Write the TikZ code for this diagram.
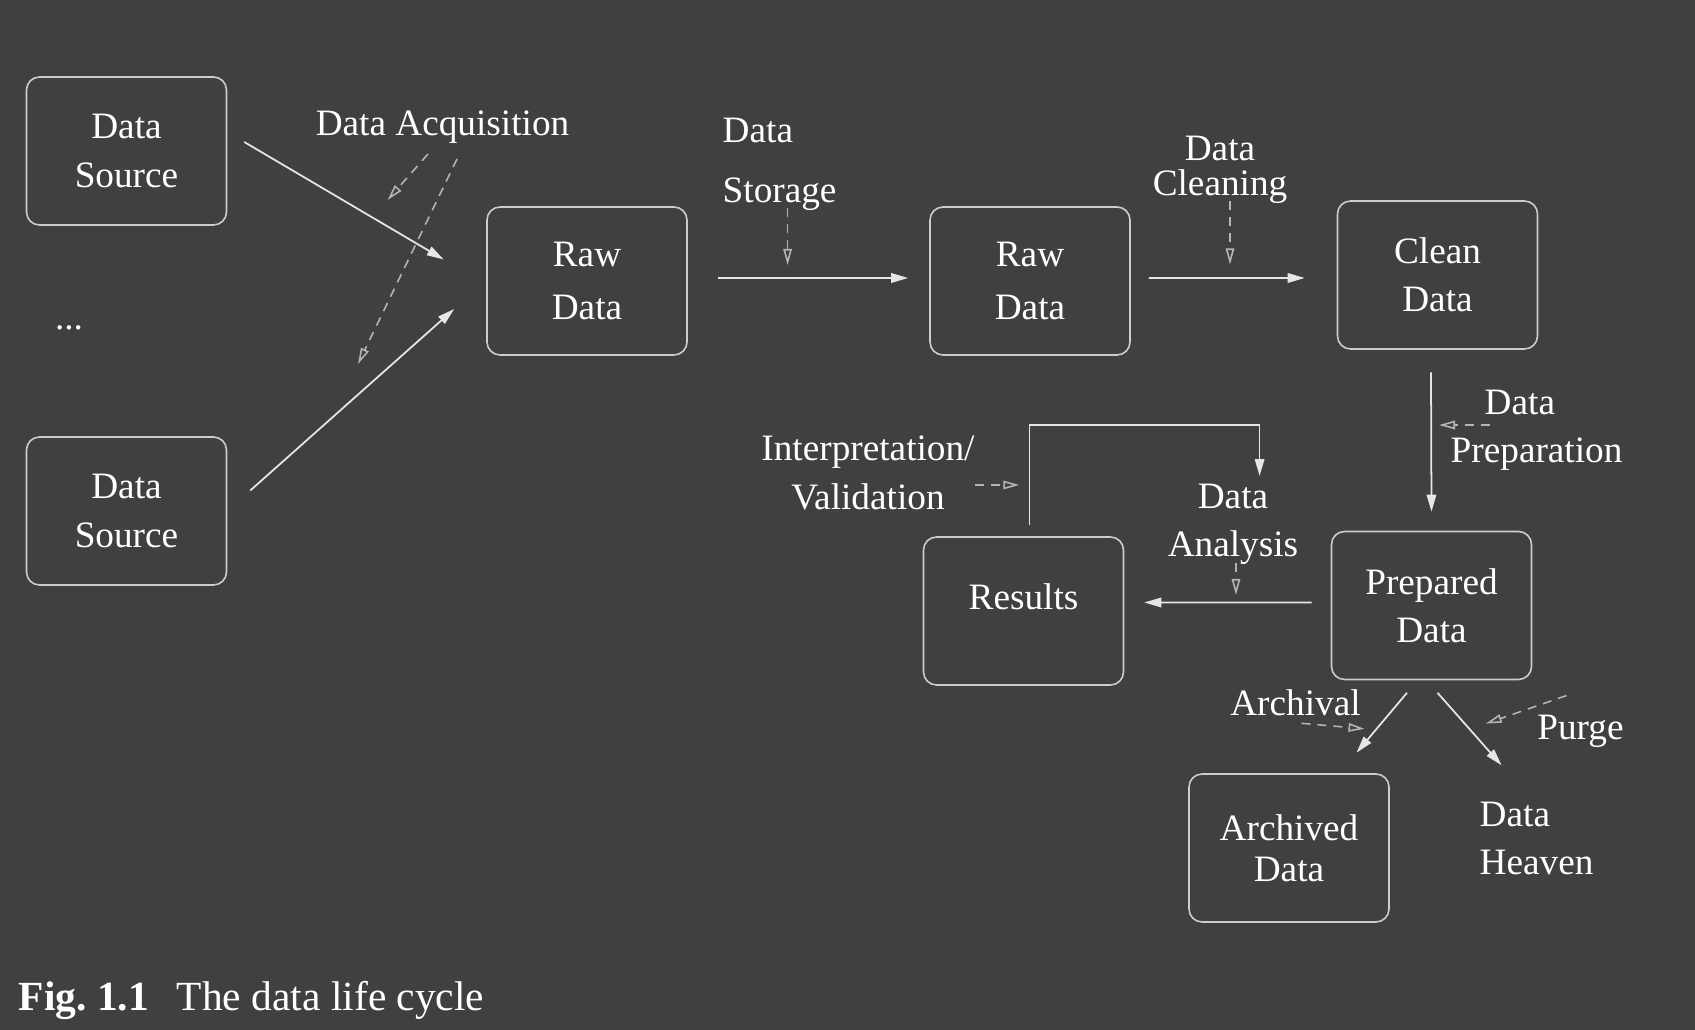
\documentclass[tikz,border=0pt]{standalone}
\usepackage{fontspec}
\setmainfont{Liberation Serif}
\usetikzlibrary{arrows.meta}

\definecolor{bgcol}{HTML}{404040}
\definecolor{linecol}{HTML}{E6E6E6}
\definecolor{boxcol}{HTML}{CDCDCD}
\definecolor{hintcol}{HTML}{B4B4B4}

\begin{document}
\begin{tikzpicture}[x=0.1mm, y=-0.1mm, text=white, font=\fontsize{10.6}{13.7}\selectfont]
    \tikzstyle{box}=[draw=boxcol, line width=0.45pt, rounded corners=1.3mm, minimum width=20mm, minimum height=14.8mm, inner sep=0pt, align=center]
    \tikzstyle{flow}=[draw=linecol, line width=0.5pt, -{Triangle[length=1.7mm,width=0.95mm]}]
    \tikzstyle{hint}=[draw=hintcol, line width=0.45pt, dash pattern=on 0.9mm off 0.7mm, -{Triangle[open,length=1.6mm,width=0.85mm]}]
    \tikzstyle{annot}=[inner sep=0pt, align=center]

    % Background and page size
    \fill[bgcol] (0,0) rectangle (1695,1030);

    % Draw the source and raw data boxes
    \foreach \name/\x/\y/\txt in {src-1/126.5/151/{Data\\Source}, src-2/126.5/511/{Data\\Source},
                                  raw-1/587/281/{Raw\\[1.4pt]Data}, raw-2/1030/281/{Raw\\[1.4pt]Data}}
        \node[box] (\name) at (\x,\y) {\txt};

    % Draw the later stages
    \node[box] (clean) at (1437.5,275) {Clean\\Data};
    \node[box] (prep) at (1431.5,605.5) {Prepared\\Data};
    \node[box, text depth=2.9mm] (res) at (1023.5,611) {Results};
    \node[box] (arch) at (1289,848) {Archived\\[-2pt]Data};
    \node[annot] (dots) at (69,328) {...};

    % Annotate the steps
    \node[annot] (acq) at (442.5,127) {Data Acquisition};
    \node[annot, anchor=west, align=left] (store) at (722,164) {Data\\[3.4pt]Storage};
    \node[annot] (clean-lbl) at (1220,170) {Data\\[-3.7pt]Cleaning};
    \node[annot, anchor=west, align=left] (prep-lbl) at (1450,430.5) {\hspace*{3.4mm}Data\\Preparation};
    \node[annot] (interp) at (868,473) {Interpretation/\\Validation};
    \node[annot] (ana) at (1233,524.5) {Data\\Analysis};
    \node[annot] (arch-lbl) at (1295.5,703) {Archival};
    \node[annot] (purge) at (1580.5,731) {Purge};
    \node[annot, anchor=west, align=left] (heaven) at (1479,838.5) {Data\\Heaven};

    % Connect the stages
    \draw[flow] ([xshift=1.7mm,yshift=0.9mm]src-1.east) -- ([xshift=-4.25mm,yshift=2.15mm]raw-1.west);
    \draw[flow] ([xshift=2.3mm,yshift=2.05mm]src-2.east) -- ([xshift=-3.2mm,yshift=-2.8mm]raw-1.west);
    \draw[flow] ([xshift=3mm,yshift=0.3mm]raw-1.east) -- ([xshift=-2.1mm,yshift=0.3mm]raw-2.west);
    \draw[flow] ([xshift=1.8mm,yshift=0.3mm]raw-2.east) -- ([xshift=-3.2mm,yshift=-0.3mm]clean.west);
    \draw[flow] ([xshift=-0.65mm,yshift=-2.25mm]clean.south) -- ([yshift=1.9mm]prep.north);
    \draw[flow] ([xshift=-1.9mm,yshift=0.3mm]prep.west) -- ([xshift=2mm,yshift=0.85mm]res.east);
    \draw[flow] ([xshift=-2.45mm,yshift=-1.25mm]prep.south) -- ([xshift=6.75mm,yshift=2.05mm]arch.north);
    \draw[flow] ([xshift=0.6mm,yshift=-1.25mm]prep.south) -- ([xshift=-3.5mm,yshift=3.6mm]heaven.north);

    % Feedback loop from the results
    \coordinate (loop-top) at (1259.6,425);
    \draw[flow, shorten >=0.75mm] ([xshift=0.6mm,yshift=1.1mm]res.north) |- (loop-top) -- (loop-top |- ana.north);

    % Point each label at its connector
    \draw[hint] ([xshift=-1.45mm,yshift=-1mm]acq.south) -- ++(-40.4,46);
    \draw[hint] ([xshift=1.45mm,yshift=-1.5mm]acq.south) -- ++(-99,205);
    \draw[hint] ([xshift=0.8mm,yshift=0.3mm]store.south) -- ++(0,57);
    \draw[hint] ([xshift=1mm,yshift=0.3mm]clean-lbl.south) -- ++(0,63);
    \draw[hint] ([xshift=4mm,yshift=0.55mm]prep-lbl.west) -- ++(-51,0);
    \draw[hint] ([yshift=-1.2mm]interp.east) -- ++(44,0);
    \draw[hint] ([xshift=0.3mm,yshift=0.25mm]ana.south) -- ++(0,32);
    \draw[hint] ([xshift=0.6mm,yshift=-0.65mm]arch-lbl.south) -- ++(63,5.5);
    \draw[hint] ([xshift=-1.4mm,yshift=1.85mm]purge.north) -- ++(-80.7,28.1);

    % Caption
    \node[anchor=base west, inner sep=0pt, font=\fontsize{11.8}{14}\selectfont] (caption) at (18,1011) {\textbf{Fig.\ 1.1}\hspace{2.8mm}The data life cycle};
\end{tikzpicture}
\end{document}
